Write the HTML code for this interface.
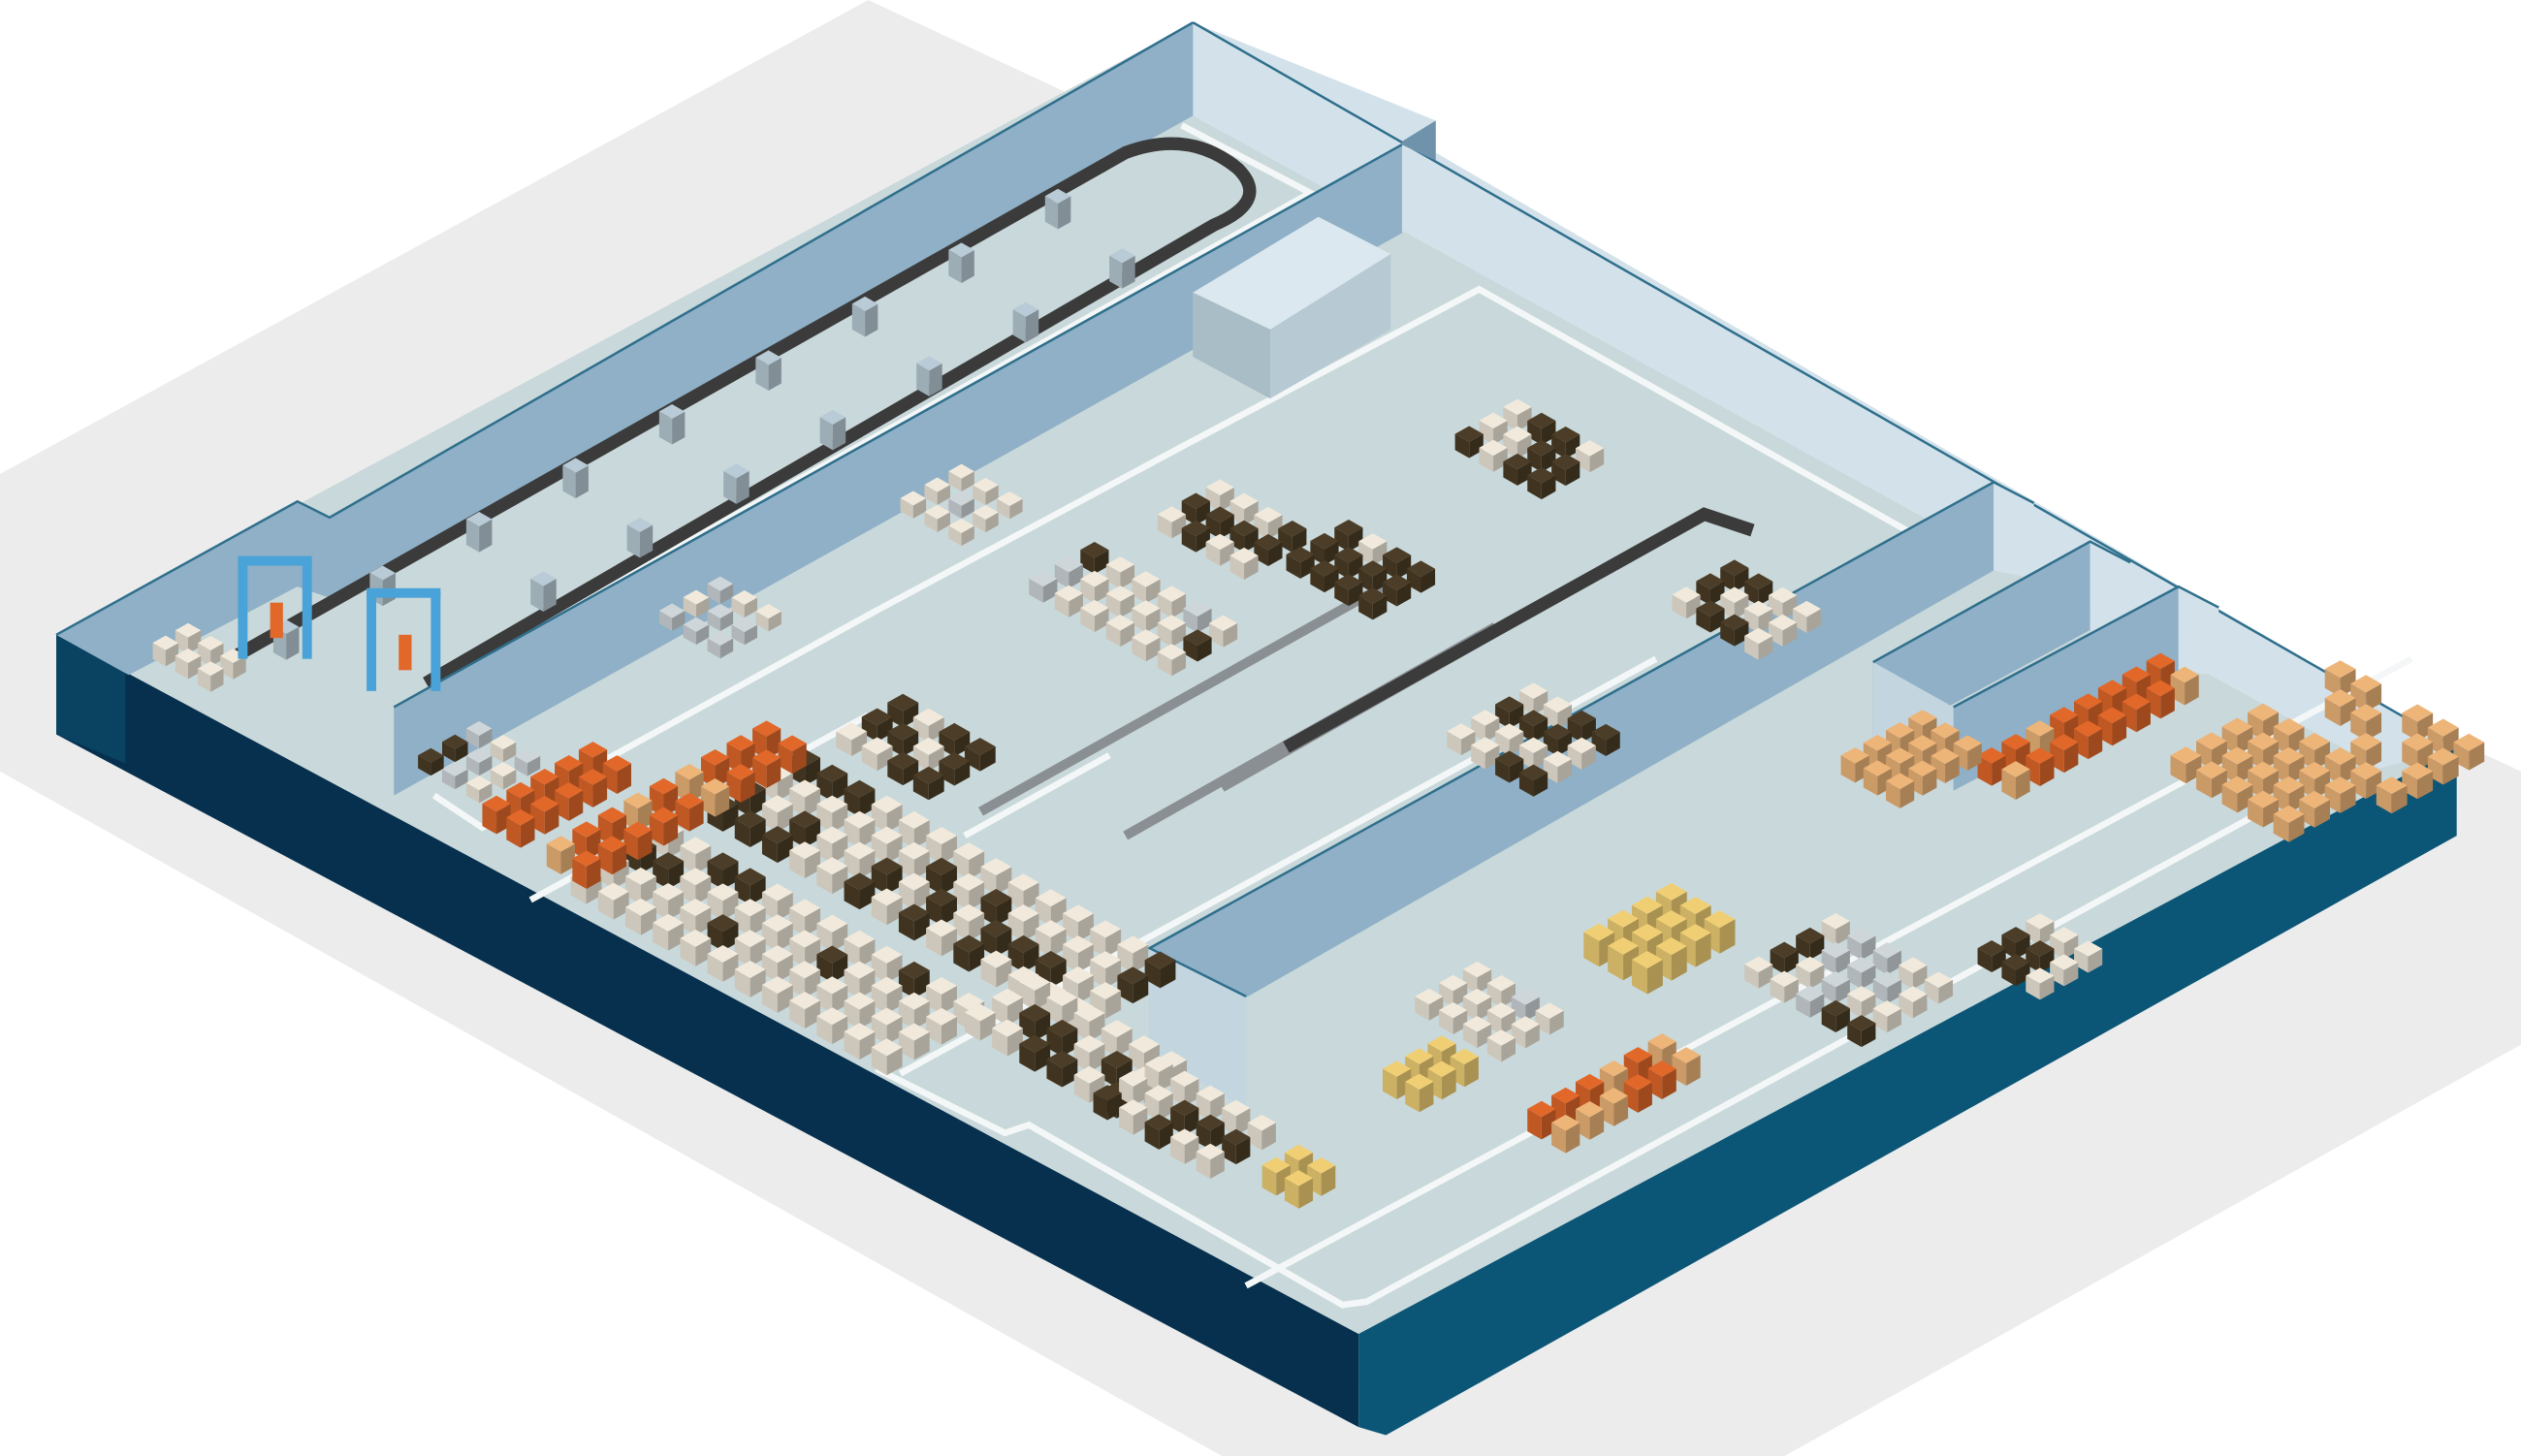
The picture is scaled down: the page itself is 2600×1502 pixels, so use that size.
<!DOCTYPE html>
<html><head><meta charset="utf-8"><style>
html,body{margin:0;padding:0;background:#fff;}
svg{display:block;}
</style></head><body>
<svg id="s" width="2600" height="1502" viewBox="0 0 1568 906" preserveAspectRatio="none" xmlns="http://www.w3.org/2000/svg">
<rect width="1568" height="906" fill="#ffffff"/>
<polygon points="0,295 540,0 1568,480 1568,650 1110,906 760,906 0,480" fill="#ececec"/>
<polygon points="35,395 845,830 845,888 35,457" fill="#06304e"/>
<polygon points="845,830 1528,465 1528,520 862,893 845,888" fill="#0b5576"/>
<polygon points="35,395 78,418 78,475 35,457" fill="#0a4262"/>
<polygon points="35,395 742,14 1528,465 845,830" fill="#c9d8da"/>
<polygon points="742,14 893,75 893,95 1528,465 1480,478 742,72" fill="#d3e2ea"/>
<line x1="742" y1="14" x2="1528" y2="465" stroke="#2f6f8c" stroke-width="1.5"/>
<polygon points="35,395 185,312 205,322 742,14 742,72 205,372 185,365 80,420" fill="#8fb0c6"/>
<polyline points="35,395 185,312 205,322 742,14" fill="none" stroke="#2f6f8c" stroke-width="1.5"/>
<polyline points="735,78 815,120 280,420" fill="none" stroke="#f4f7f7" stroke-width="4"/>
<path d="M140,412 L700,95 Q740,80 770,105 Q790,125 755,140 L265,425" fill="none" stroke="#3b3b3b" stroke-width="8"/>
<polygon points="245,440 872,90 872,145 245,495" fill="#8fb0c6"/>
<polygon points="872,90 893,100 893,75 872,88" fill="#6f93ab"/>
<line x1="245" y1="440" x2="872" y2="90" stroke="#2f6f8c" stroke-width="1.5"/>
<g stroke="#f4f7f7" stroke-width="4" fill="none">
<polyline points="270,495 300,515 545,380 735,278 920,180 1230,355"/>
<polyline points="545,665 625,705 640,700 835,812 850,810 1480,465"/>
<polyline points="560,668 1030,410"/>
<polyline points="775,800 1500,410"/>
<polyline points="600,520 690,470"/>
<polyline points="330,560 540,445"/>
</g>
<polygon points="715,590 1240,300 1240,355 715,655" fill="#8fb0c6"/>
<polygon points="715,590 715,655 775,690 775,620" fill="#c3d6e0"/>
<polygon points="1240,300 1265,313 1265,360 1240,355" fill="#d3e2ea"/>
<polyline points="775,620 715,590 1240,300 1265,313" fill="none" stroke="#2f6f8c" stroke-width="1.5"/>
<polygon points="1165,412 1300,337 1300,392 1165,465" fill="#8fb0c6"/>
<polygon points="1300,337 1325,350 1325,400 1300,392" fill="#d3e2ea"/>
<polygon points="1165,412 1215,440 1215,490 1165,465" fill="#c3d6e0"/>
<polygon points="1215,440 1355,365 1355,418 1215,492" fill="#8fb0c6"/>
<polygon points="1355,365 1380,378 1380,420 1355,418" fill="#d3e2ea"/>
<polyline points="1165,412 1300,337 1325,350" fill="none" stroke="#2f6f8c" stroke-width="1.5"/>
<polyline points="1215,440 1355,365 1380,378" fill="none" stroke="#2f6f8c" stroke-width="1.5"/>
<polygon points="742,182 820,135 865,158 865,205 790,248 742,222" fill="#b7cad3"/>
<polygon points="742,182 820,135 865,158 790,205" fill="#dbe8ef"/>
<polygon points="742,182 790,205 790,248 742,222" fill="#a9bdc7"/>
<g stroke="#8a8f94" stroke-width="6" fill="none">
<polyline points="610,505 860,365"/>
<polyline points="700,520 930,390"/>
<polyline points="760,490 1060,320"/>
</g>
<polyline points="800,465 1060,320 1090,330" stroke="#3b3b3b" stroke-width="8" fill="none"/>
<g id="boxes"></g>
<g fill="#4aa3d8">
<rect x="148" y="348" width="6" height="62"/><rect x="188" y="348" width="6" height="62"/><rect x="148" y="346" width="46" height="6"/>
<rect x="228" y="368" width="6" height="62"/><rect x="268" y="368" width="6" height="62"/><rect x="228" y="366" width="46" height="6"/>
</g>
<g fill="#e2682a"><rect x="168" y="375" width="8" height="22"/><rect x="248" y="395" width="8" height="22"/></g>
</svg>
<script>
(function(){
var NS="http://www.w3.org/2000/svg",g=document.getElementById('boxes');
function poly(p,f){var e=document.createElementNS(NS,'polygon');e.setAttribute('points',p.map(function(q){return q[0].toFixed(1)+','+q[1].toFixed(1)}).join(' '));e.setAttribute('fill',f);g.appendChild(e);}
function shade(c,k){var n=parseInt(c.slice(1),16),r=(n>>16)*k,gg=((n>>8)&255)*k,b=(n&255)*k;function h(v){v=Math.max(0,Math.min(255,Math.round(v)));return (v<16?'0':'')+v.toString(16);}return '#'+h(r)+h(gg)+h(b);}
function cube(x,y,s,h,c){var a=[s,-s*0.56],b=[s,s*0.57];
var t0=[x,y],t1=[x+a[0],y+a[1]],t2=[x+a[0]+b[0],y+a[1]+b[1]],t3=[x+b[0],y+b[1]];
poly([t0,t3,[t3[0],t3[1]+h],[t0[0],t0[1]+h]],shade(c,0.85));
poly([t3,t2,[t2[0],t2[1]+h],[t3[0],t3[1]+h]],shade(c,0.7));
poly([t0,t1,t2,t3],c);}
var seed=7;function rnd(){seed=(seed*9301+49297)%233280;return seed/233280;}
function grid(x,y,rows,cols,step,s,h,cols_){s=s*0.8;for(var i=0;i<rows;i++)for(var j=cols-1;j>=0;j--){var px=x+i*step+j*step,py=y+i*step*0.57-j*step*0.56;var r=rnd();var c=cols_[Math.floor(r*cols_.length)];if(c)cube(px,py,s,h,c);}}
var CR='#f1eadc',DK='#4b3d27',OR='#e2682a',LO='#eeb579',YE='#f0cf74',GR='#cfd6da';
grid(355,545,12,4,17,12,12,[CR,CR,CR,DK,CR,CR]);
grid(440,500,14,4,17,12,12,[DK,CR,CR,DK,CR]);
grid(520,455,4,3,16,12,10,[DK,DK,CR]);
grid(640,360,6,3,16,11,10,[CR,CR,DK,GR]);
grid(720,320,4,3,15,11,10,[DK,CR,DK]);
grid(800,345,4,3,15,11,10,[DK,DK,CR]);
grid(900,455,4,4,15,11,10,[CR,CR,DK]);
grid(1040,370,4,3,15,11,10,[CR,CR,DK]);
grid(905,270,4,3,15,11,10,[DK,DK,CR]);
grid(300,500,2,5,15,11,14,[OR]);
grid(340,525,2,9,16,11,14,[OR,OR,LO]);
grid(1230,470,2,8,15,11,14,[OR,OR,LO]);
grid(950,690,2,6,15,11,14,[OR,LO]);
grid(1350,470,6,7,16,12,12,[LO,LO,LO,'']);
grid(1145,470,3,4,14,11,12,[LO]);
grid(985,580,3,4,15,12,16,[YE]);
grid(860,665,2,3,14,11,14,[YE]);
grid(785,725,2,2,14,11,14,[YE]);
grid(1085,600,5,4,16,11,10,[CR,DK,CR,GR]);
grid(1230,590,3,3,15,11,10,[CR,DK]);
grid(880,620,4,3,15,11,10,[CR,CR,GR]);
grid(600,630,6,3,17,12,12,[CR,DK,CR]);
grid(680,680,5,3,16,11,12,[CR,CR,DK]);
grid(560,310,3,3,15,10,8,[CR,GR]);
grid(410,380,3,3,15,10,8,[CR,GR]);
grid(260,470,3,3,15,10,8,[DK,CR,GR]);
grid(95,400,3,2,14,10,10,[CR,CR]);
for(var k=0;k<9;k++){cube(170+k*60,390-k*33.5,8,16,'#b9cbd6');}
for(var k=0;k<7;k++){cube(330+k*60,360-k*33.5,8,16,'#b9cbd6');}
})();
</script>
</body></html>
